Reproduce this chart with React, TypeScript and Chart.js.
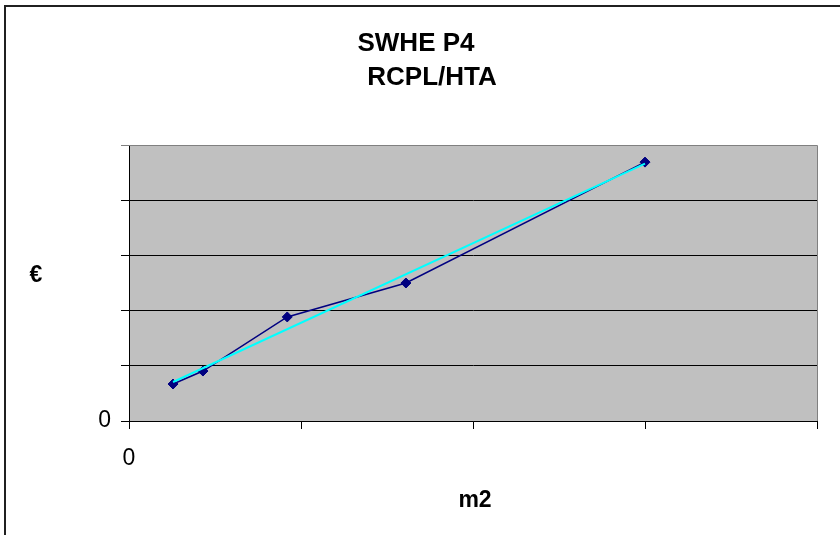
import React, { useEffect, useRef } from "react";
import { Chart, registerables } from "chart.js";

Chart.register(...registerables);

// Data (arbitrary units, no tick values shown)
const areaM2 = [12.8, 21.5, 46, 80.5, 150];
const costEuro = [670, 905, 1885, 2500, 4690];
// Linear trend line endpoints (as drawn in the reference)
const trendM2 = [12.8, 150];
const trendEuro = [707, 4662];

const xMin = 0;
const xMax = 200;
const xStep = 50;
const yMin = 0;
const yMax = 5000;
const yStep = 1000;

const titleLines = ["SWHE P4", "RCPL/HTA"];
const yAxisTitle = "€";
const xAxisTitle = "m2";

const FONT = "'Liberation Sans', Arial, sans-serif";

const decorPlugin = {
  id: "decor",
  beforeDraw(chart: any) {
    const { ctx, chartArea } = chart;
    ctx.save();
    ctx.fillStyle = "#ffffff";
    ctx.fillRect(0, 0, chart.width, chart.height);
    ctx.fillStyle = "#C0C0C0";
    ctx.fillRect(
      chartArea.left,
      chartArea.top,
      chartArea.right - chartArea.left,
      chartArea.bottom - chartArea.top
    );
    ctx.restore();
  },
  afterDraw(chart: any) {
    const { ctx, chartArea } = chart;
    ctx.save();
    // plot area border (top + right) in gray
    ctx.strokeStyle = "#808080";
    ctx.lineWidth = 1;
    ctx.beginPath();
    ctx.moveTo(chartArea.left, chartArea.top + 0.5);
    ctx.lineTo(chartArea.right + 0.5, chartArea.top + 0.5);
    ctx.lineTo(chartArea.right + 0.5, chartArea.bottom);
    ctx.stroke();

    // outer chart border (left + top visible)
    ctx.strokeStyle = "#202020";
    ctx.lineWidth = 2;
    ctx.beginPath();
    ctx.moveTo(5, chart.height);
    ctx.lineTo(5, 6);
    ctx.lineTo(chart.width, 6);
    ctx.stroke();

    // titles
    ctx.fillStyle = "#000000";
    ctx.textAlign = "center";
    ctx.textBaseline = "middle";
    ctx.font = `bold 26px ${FONT}`;
    ctx.fillText(titleLines[0], 416, 44);
    ctx.fillText(titleLines[1], 432, 78);

    // axis titles
    ctx.font = `bold 23px ${FONT}`;
    ctx.fillText(yAxisTitle, 36, 276);
    ctx.fillText(xAxisTitle, chartArea.left + 346, chartArea.bottom + 80);
    ctx.restore();
  },
};

export default function App() {
  const canvasRef = useRef<HTMLCanvasElement | null>(null);

  useEffect(() => {
    document.body.style.margin = "0";
    const canvas = canvasRef.current;
    if (!canvas) return;

    const seriesData = areaM2.map((x, i) => ({ x, y: costEuro[i] }));
    const trendData = trendM2.map((x, i) => ({ x, y: trendEuro[i] }));

    const chart = new Chart(canvas, {
      type: "line",
      data: {
        datasets: [
          {
            label: "Trend",
            data: trendData,
            borderColor: "#00FFFF",
            borderWidth: 2,
            pointRadius: 0,
            fill: false,
            order: 0,
          },
          {
            label: "SWHE P4",
            data: seriesData,
            borderColor: "#000080",
            backgroundColor: "#000080",
            borderWidth: 1.5,
            pointStyle: "rectRot",
            pointRadius: 5,
            pointBorderWidth: 1,
            fill: false,
            order: 1,
          },
        ],
      },
      options: {
        responsive: false,
        animation: false,
        devicePixelRatio: 1,
        layout: { padding: { top: 145, right: 23, bottom: 0, left: 0 } },
        plugins: {
          legend: { display: false },
          tooltip: { enabled: false },
          title: { display: false },
        },
        scales: {
          x: {
            type: "linear",
            min: xMin,
            max: xMax,
            afterFit(scale: any) {
              scale.height = 114;
            },
            ticks: {
              stepSize: xStep,
              autoSkip: false,
              maxRotation: 0,
              padding: 16,
              color: "#000000",
              font: { family: FONT, size: 23 },
              callback: (v: any) => (Number(v) === 0 ? "0" : ""),
            },
            grid: {
              drawOnChartArea: false,
              drawTicks: true,
              tickLength: 8,
              color: "#000000",
            },
            border: { display: true, color: "#000000", width: 1 },
          },
          y: {
            type: "linear",
            min: yMin,
            max: yMax,
            afterFit(scale: any) {
              scale.width = 129;
            },
            ticks: {
              stepSize: yStep,
              autoSkip: false,
              padding: 10,
              color: "#000000",
              font: { family: FONT, size: 23 },
              callback: (v: any) => (Number(v) === 0 ? "0" : ""),
            },
            grid: {
              drawOnChartArea: true,
              drawTicks: true,
              tickLength: 8,
              color: (c: any) =>
                c.tick && c.tick.value === yMax ? "#808080" : "#000000",
            },
            border: { display: true, color: "#000000", width: 1 },
          },
        },
      },
      plugins: [decorPlugin],
    });

    return () => chart.destroy();
  }, []);

  return (
    <div
      style={{
        position: "fixed",
        left: 0,
        top: 0,
        width: 840,
        height: 535,
        background: "#ffffff",
      }}
    >
      <canvas ref={canvasRef} width={840} height={535} />
    </div>
  );
}
